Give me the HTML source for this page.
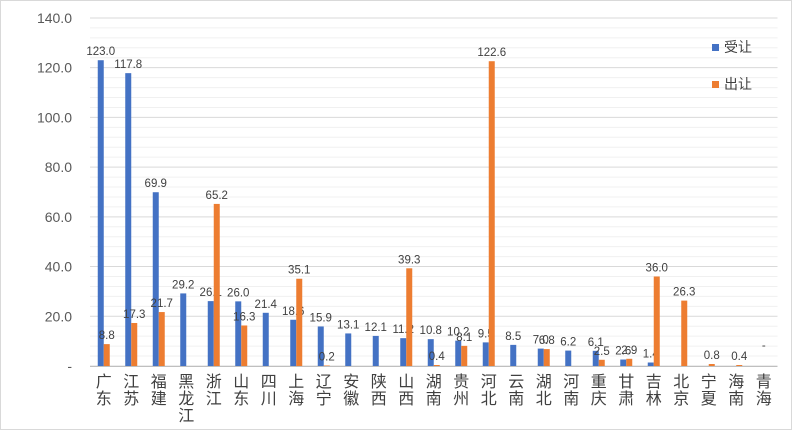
<!DOCTYPE html>
<html><head><meta charset="utf-8"><style>
body{margin:0;background:#fff;}
#c{position:relative;width:792px;height:430px;overflow:hidden;font-family:"Liberation Sans","Noto Sans CJK SC",sans-serif;}
.cat{position:absolute;top:374px;width:18px;font-size:16px;color:#404040;line-height:17px;text-align:center;}
</style></head><body><div id="c">
<svg id="s" width="792" height="430" style="position:absolute;left:0;top:0"></svg>
</div>
<script>
const s=document.getElementById('s');const NS='http://www.w3.org/2000/svg';
function el(t,a,txt){const e=document.createElementNS(NS,t);for(const k in a)e.setAttribute(k,a[k]);if(txt!=null)e.textContent=txt;s.appendChild(e);return e;}
el('rect',{x:0.5,y:0.5,width:791,height:429,fill:'#fff',stroke:'#d9d9d9'});
const y0=366,k=2.486,L=90,W=27.5;
for(let v=0;v<=140;v+=4){const y=y0-v*k;el('line',{x1:L,x2:L+25*W,y1:y,y2:y,stroke:v%20==0?'#d9d9d9':'#f0f0f0','stroke-width':1});}
for(let v=0;v<=140;v+=20){const y=y0-v*k;el('text',{x:72,y:y+5,'text-anchor':'end','font-size':14,fill:'#595959'},v==0?'-':v.toFixed(1));}
const d=[['广东',123.0,8.8],['江苏',117.8,17.3],['福建',69.9,21.7],['黑龙江',29.2,null],['浙江',26.1,65.2],['山东',26.0,16.3],['四川',21.4,null],['上海',18.6,35.1],['辽宁',15.9,0.2],['安徽',13.1,null],['陕西',12.1,null],['山西',11.2,39.3],['湖南',10.8,0.4],['贵州',10.2,8.1],['河北',9.5,122.6],['云南',8.5,null],['湖北',7.0,6.8],['河南',6.2,null],['重庆',6.1,2.5],['甘肃',2.6,2.9],['吉林',1.4,36.0],['北京',null,26.3],['宁夏',null,0.8],['海南',null,0.4],['青海',null,null]];
const c=document.getElementById('c');
d.forEach((r,i)=>{const cx=L+W*i+W/2;
 if(r[1]!=null){const h=r[1]*k;el('rect',{x:cx-6,y:y0-h,width:6,height:h,fill:'#4472C4'});el('text',{x:cx-3,y:y0-h-5,'text-anchor':'middle','font-size':11.5,fill:'#404040'},r[1].toFixed(1));}
 if(r[2]!=null){const h=r[2]*k;el('rect',{x:cx,y:y0-h,width:6,height:h,fill:'#ED7D31'});el('text',{x:cx+3,y:y0-h-5,'text-anchor':'middle','font-size':11.5,fill:'#404040'},r[2].toFixed(1));}
 if(i==24)el('text',{x:cx,y:y0-17,'text-anchor':'middle','font-size':11.5,fill:'#404040'},'-');
 const t=document.createElement('div');t.className='cat';t.innerHTML=r[0].split('').join('<br>');t.style.left=(cx-9)+'px';c.appendChild(t);
});
el('line',{x1:L,x2:L+25*W,y1:y0+0.5,y2:y0+0.5,stroke:'#bfbfbf'});
el('rect',{x:712,y:44,width:7,height:7,fill:'#4472C4'});el('text',{x:724,y:52,'font-size':14,fill:'#404040'},'受让');
el('rect',{x:712,y:81,width:7,height:7,fill:'#ED7D31'});el('text',{x:724,y:89,'font-size':14,fill:'#404040'},'出让');
</script></body></html>
